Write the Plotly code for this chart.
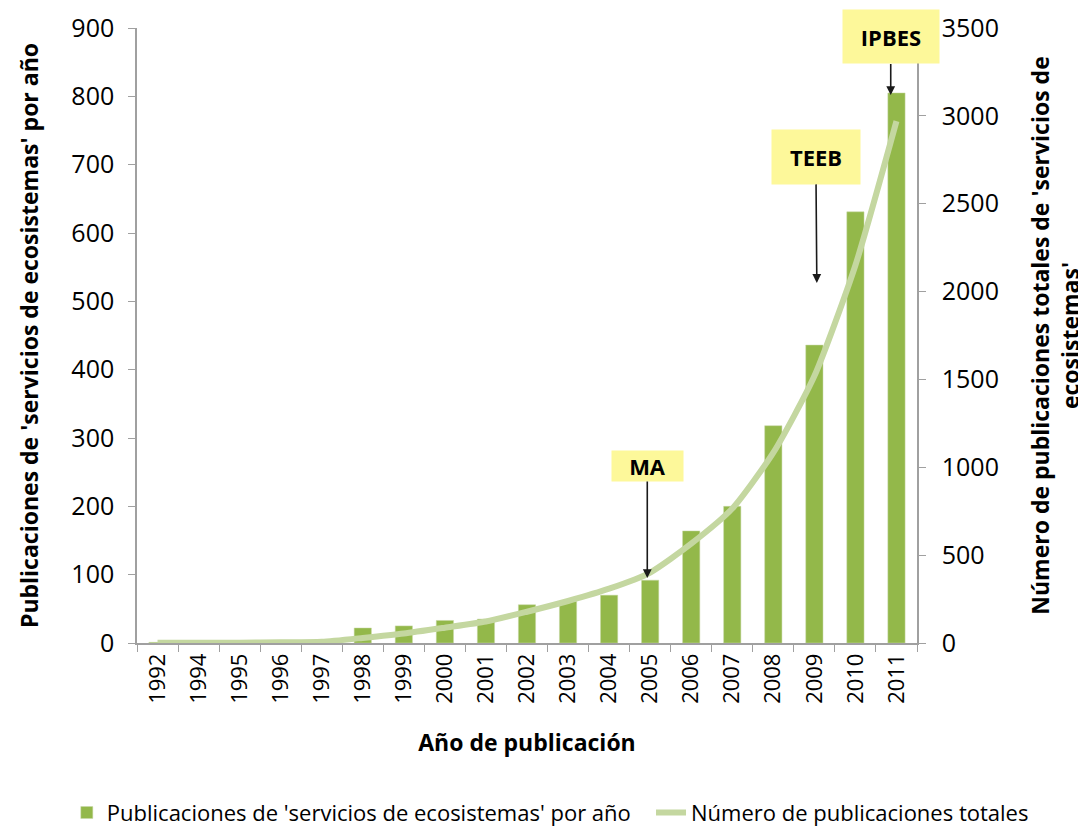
import plotly.graph_objects as go

years = ["1992", "1994", "1995", "1996", "1997", "1998", "1999", "2000", "2001", "2002",
         "2003", "2004", "2005", "2006", "2007", "2008", "2009", "2010", "2011"]
per_year = [1, 0, 1, 2, 3, 22, 25, 33, 35, 56, 61, 70, 92, 164, 200, 318, 436, 631, 805]
total = [1, 1, 2, 4, 7, 29, 54, 87, 122, 178, 239, 309, 401, 565, 765, 1083, 1519, 2150, 2970]

events = ["MA", "TEEB", "IPBES"]
event_pos = [11.93, 16.06, 17.86]
event_val = [95, 527, 802]

FONT = "Open Sans"

fig = go.Figure()
fig.add_trace(go.Bar(
    x=years, y=per_year, name="Publicaciones de 'servicios de ecosistemas' por año",
    marker=dict(color="#93b84a", line=dict(color="#c9d9a8", width=0.5)),
    width=0.42, yaxis="y", legend="legend",
))
fig.add_trace(go.Scatter(
    x=years, y=total, name="Número de publicaciones totales",
    mode="lines", line=dict(color="#c4d7a0", width=6, shape="spline", smoothing=0.6),
    yaxis="y2", legend="legend2",
))

ann_shape = [dict(ax=0, ay=-112, w=69, h=28), dict(ax=-1, ay=-126, w=86, h=52),
             dict(ax=0, ay=-58, w=94, h=51)]
annotations = []
for name, xp, yv, s in zip(events, event_pos, event_val, ann_shape):
    annotations.append(dict(
        x=xp, y=yv, xref="x", yref="y", text="<b>%s</b>" % name,
        showarrow=True, arrowhead=2, arrowsize=1.1, arrowwidth=1.6, arrowcolor="#1a1a1a",
        ax=s["ax"], ay=s["ay"], bgcolor="#fdf89a", borderpad=1,
        width=s["w"], height=s["h"], font=dict(family=FONT, size=22, color="#000"),
    ))

legend_common = dict(orientation="h", yanchor="middle", y=-0.276, xanchor="left",
                     font=dict(family=FONT, size=22, color="#000"), itemwidth=30,
                     bgcolor="rgba(0,0,0,0)")

fig.update_layout(
    width=1078, height=819,
    margin=dict(l=129, r=169, t=20, b=184, autoexpand=False),
    paper_bgcolor="white", plot_bgcolor="white",
    font=dict(family=FONT, color="#000"),
    bargap=0.5,
    showlegend=True,
    legend=dict(x=-0.09, **legend_common),
    legend2=dict(x=0.659, **legend_common),
    xaxis=dict(
        type="category", range=[-0.5, len(years) - 0.5], autorange=False,
        showline=True, linecolor="#a0a0a0", linewidth=1.5,
        ticks="outside", ticklen=7, tickcolor="#a0a0a0", tickson="boundaries",
        tickangle=-90, tickfont=dict(family=FONT, size=22, color="#000"),
        showgrid=False, zeroline=False,
        title=dict(text="<b>Año de publicación</b>", font=dict(family=FONT, size=23, color="#000"),
                   standoff=32),
    ),
    yaxis=dict(
        range=[0, 900], dtick=100, showline=True, linecolor="#a0a0a0", linewidth=1.5,
        ticks="outside", ticklen=7, tickcolor="#a0a0a0", ticklabelstandoff=9,
        tickfont=dict(family=FONT, size=25, color="#000"),
        showgrid=False, zeroline=False,
        title=dict(text="<b>Publicaciones de 'servicios de ecosistemas' por año</b>",
                   font=dict(family=FONT, size=23, color="#000"), standoff=26),
    ),
    yaxis2=dict(
        range=[0, 3500], dtick=500, overlaying="y", side="right",
        showline=True, linecolor="#a0a0a0", linewidth=1.5,
        ticks="outside", ticklen=7, tickcolor="#a0a0a0", ticklabelstandoff=11,
        tickfont=dict(family=FONT, size=25, color="#000"),
        showgrid=False, zeroline=False,
        title=dict(text="<b>Número de publicaciones totales de 'servicios de<br>ecosistemas'</b>",
                   font=dict(family=FONT, size=23, color="#000"), standoff=36),
    ),
    annotations=annotations,
)

fig.write_html("out.html")
